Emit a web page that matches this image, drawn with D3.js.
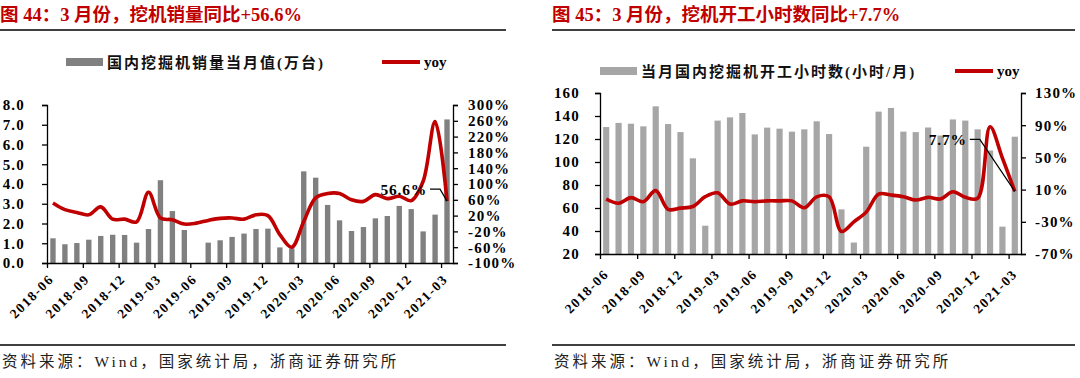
<!DOCTYPE html>
<html>
<head>
<meta charset="utf-8">
<script src="https://cdn.jsdelivr.net/npm/d3@7"></script>
<style>
  body { margin: 0; background: #fff; }
  svg text { font-family: "Liberation Serif", "Noto Sans CJK SC", serif; }
</style>
</head>
<body>
<svg id="chart" width="1080" height="378"></svg>
<script>
// months shared by both charts
const months = ["2018-06","2018-07","2018-08","2018-09","2018-10","2018-11","2018-12",
  "2019-01","2019-02","2019-03","2019-04","2019-05","2019-06","2019-07","2019-08","2019-09","2019-10","2019-11","2019-12",
  "2020-01","2020-02","2020-03","2020-04","2020-05","2020-06","2020-07","2020-08","2020-09","2020-10","2020-11","2020-12",
  "2021-01","2021-02","2021-03"];
const tickLabels = ["2018-06","2018-09","2018-12","2019-03","2019-06","2019-09","2019-12","2020-03","2020-06","2020-09","2020-12","2021-03"];

// chart 44: domestic excavator sales (万台) + yoy %
const salesValues = [1.25,0.95,1.01,1.18,1.37,1.43,1.42,
  1.03,1.72,4.19,2.63,1.67,null,1.03,1.15,1.32,1.49,1.72,1.74,
  0.79,0.74,4.64,4.32,2.94,2.16,1.62,1.82,2.26,2.38,2.89,2.73,
  1.60,2.45,7.27];
const salesYoy = [52,35,28,22,42,11,11,
  4,79,14,9.5,-1.4,1,7.8,13,14,11,22,20,
  -28,-60,5,65,76,76,60,56,73,63,69,58,
  107,258,56.6];
const salesLeftTicks = [0,1,2,3,4,5,6,7,8];
const salesRightTicks = [-100,-60,-20,20,60,100,140,180,220,260,300];

// chart 45: working hours per month + yoy %
const hoursValues = [130.4,134,133.3,131,148.4,133,126,
  103.2,44.6,136,138.8,142.6,124,129.9,129,126.4,128.4,135.4,124.3,
  58.8,30,113.3,143.8,147,126.4,126,130,123,137,136,128.4,
  110,43.8,122];
const hoursYoy = [-1.7,-7,0,-5,8.7,-14.5,-13,
  -11,1.2,6,-8,-4,-5,-4,-4,-4,-12.5,1,1,
  -42,-30,-18,4.5,3.3,1.2,-3,0.4,-1.7,7.4,0.4,-0.8,
  88,49,7.7];
const hoursLeftTicks = [20,40,60,80,100,120,140,160];
const hoursRightTicks = [-70,-30,10,50,90,130];

const red = "#c00000";
const svg = d3.select("#chart");

function drawPanel(o) {
  const g = svg.append("g");

  // title + rules
  g.append("text").attr("x", o.left).attr("y", 21)
    .attr("fill", red).attr("font-weight", "bold").attr("font-size", 18.5)
    .text(o.title);
  g.append("line").attr("x1", o.left).attr("x2", o.right).attr("y1", 30).attr("y2", 30)
    .attr("stroke", "#000").attr("stroke-width", 1.3);
  g.append("line").attr("x1", o.left).attr("x2", o.right).attr("y1", 345).attr("y2", 345)
    .attr("stroke", "#000").attr("stroke-width", 1.3);
  g.append("text").attr("x", o.left + 2).attr("y", 367)
    .attr("font-size", 15.5).attr("letter-spacing", 3).attr("fill", "#222")
    .text("资料来源：Wind，国家统计局，浙商证券研究所");

  const x = d3.scaleBand().domain(months).range([o.x0, o.x1]).paddingInner(o.pad).paddingOuter(o.pad / 2);
  const xi = d3.scaleLinear().domain([0, months.length]).range([o.x0, o.x1]);
  const y = d3.scaleLinear().domain(o.yDomain).range([o.yBottom, o.yTop]);
  const y2 = d3.scaleLinear().domain(o.y2Domain).range([o.yBottom, o.yTop]);

  // bars
  const rows = months.map((m, i) => ({ m: m, v: o.values[i], p: o.yoy[i] }));
  g.selectAll("rect.bar").data(rows.filter(d => d.v != null)).enter()
    .append("rect").attr("class", "bar")
    .attr("x", d => x(d.m))
    .attr("width", x.bandwidth())
    .attr("y", d => y(d.v))
    .attr("height", d => y(o.yDomain[0]) - y(d.v))
    .attr("fill", o.barColor);

  // yoy line, smoothed like the excel one
  const line = d3.line()
    .x(d => x(d.m) + x.bandwidth() / 2)
    .y(d => y2(d.p))
    .curve(d3.curveCatmullRom.alpha(0.5));
  g.append("path").datum(rows).attr("d", line)
    .attr("fill", "none").attr("stroke", red).attr("stroke-width", 3.6)
    .attr("stroke-linejoin", "round");

  // axes
  const yAxis = g.append("g").attr("transform", `translate(${o.x0},0)`)
    .call(d3.axisLeft(y).tickValues(o.leftTicks).tickFormat(o.leftFmt).tickSize(5).tickPadding(o.leftPad));
  const y2Axis = g.append("g").attr("transform", `translate(${o.x1},0)`)
    .call(d3.axisRight(y2).tickValues(o.rightTicks).tickFormat(d => d + "%").tickSize(5).tickPadding(o.rightPad));
  const xAxis = g.append("g").attr("transform", `translate(0,${o.yBottom})`)
    .call(d3.axisBottom(xi).tickValues(tickLabels.map(t => months.indexOf(t)))
      .tickFormat(i => months[i]).tickSize(5).tickSizeOuter(0));

  [yAxis, y2Axis, xAxis].forEach(a => {
    a.select(".domain").attr("stroke", "#000").attr("stroke-width", 1.3);
    a.selectAll(".tick line").attr("stroke", "#000").attr("stroke-width", 1.3);
    a.selectAll("text").attr("fill", "#000").attr("font-weight", "bold")
      .style("font-family", "'Liberation Serif', serif");
  });
  yAxis.selectAll("text").attr("font-size", 15).attr("letter-spacing", 1.2);
  y2Axis.selectAll("text").attr("font-size", 15).attr("letter-spacing", 1.2);
  xAxis.selectAll("text")
    .attr("font-size", 13.5).attr("letter-spacing", 1.5)
    .attr("x", 0).attr("y", 0).attr("dy", 0)
    .attr("text-anchor", "end")
    .attr("transform", `translate(${o.labDx},${o.labDy}) rotate(-45)`);

  // legend
  const lg = g.append("g");
  lg.append("rect").attr("x", o.legX).attr("y", o.legY - 4).attr("width", 37).attr("height", 8).attr("fill", o.barColor);
  lg.append("text").attr("x", o.legX + 41).attr("y", o.legY + 5.5)
    .attr("font-size", 15).attr("letter-spacing", 2).attr("font-weight", "bold").attr("fill", "#111")
    .text(o.legendText);
  lg.append("line").attr("x1", o.legX2).attr("x2", o.legX2 + 38).attr("y1", o.legY).attr("y2", o.legY)
    .attr("stroke", red).attr("stroke-width", 4);
  lg.append("text").attr("x", o.legX2 + 42).attr("y", o.legY + 5)
    .attr("font-size", 15).attr("font-weight", "bold").text("yoy");

  // last point label with leader line
  const last = rows[rows.length - 1];
  const px = x(last.m) + x.bandwidth() / 2, py = y2(last.p);
  g.append("polyline")
    .attr("points", [[px + o.annDx, py + o.annDy], [px + o.annDx + 10, py + o.annDy], [px, py]].map(p => p.join(",")).join(" "))
    .attr("fill", "none").attr("stroke", "#000").attr("stroke-width", 1.2);
  g.append("text").attr("x", px + o.annDx - 3).attr("y", py + o.annDy + 5.5)
    .attr("text-anchor", "end").attr("font-size", 15.5).attr("font-weight", "bold")
    .attr("letter-spacing", 0.8)
    .text(last.p + "%");
}

drawPanel({
  left: 0, right: 506,
  title: "图 44：3 月份，挖机销量同比+56.6%",
  x0: 47, x1: 453, yTop: 105, yBottom: 263,
  yDomain: [0, 8], y2Domain: [-100, 300],
  values: salesValues, yoy: salesYoy, pad: 0.55,
  barColor: "#808080",
  leftTicks: salesLeftTicks, leftFmt: d3.format(".1f"), leftPad: 17,
  rightTicks: salesRightTicks, rightPad: 10,
  labDx: 7, labDy: 17,
  legX: 66, legY: 62, legX2: 382,
  legendText: "国内挖掘机销量当月值(万台)",
  annDx: -17, annDy: -12
});

drawPanel({
  left: 552, right: 1075,
  title: "图 45：3 月份，挖机开工小时数同比+7.7%",
  x0: 600, x1: 1021, yTop: 93, yBottom: 254,
  yDomain: [20, 160], y2Domain: [-70, 130],
  values: hoursValues, yoy: hoursYoy, pad: 0.5,
  barColor: "#a6a6a6",
  leftTicks: hoursLeftTicks, leftFmt: d3.format("d"), leftPad: 15,
  rightTicks: hoursRightTicks, rightPad: 9,
  labDx: 9, labDy: 21,
  legX: 600, legY: 71, legX2: 955,
  legendText: "当月国内挖掘机开工小时数(小时/月)",
  annDx: -45, annDy: -52
});
</script>
</body>
</html>
